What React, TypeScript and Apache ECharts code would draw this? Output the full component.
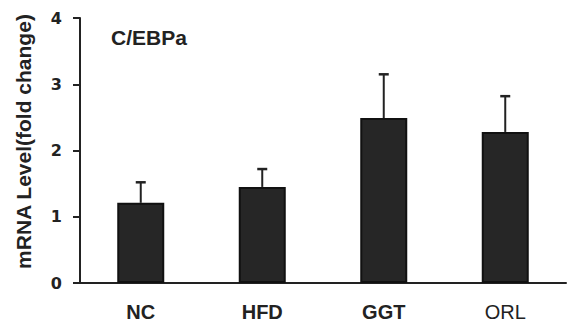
import React, { useEffect, useRef } from "react";
import * as echarts from "echarts";

const categories = ["NC", "HFD", "GGT", "ORL"];
const means = [1.21, 1.45, 2.49, 2.28];
const upper = [1.52, 1.72, 3.15, 2.82];
const yTicks = [0, 1, 2, 3, 4];

export default function App() {
  const ref = useRef<HTMLDivElement>(null);
  useEffect(() => {
    const chart = echarts.init(ref.current!, null, { renderer: "svg" });
    const font = "Liberation Sans";
    chart.setOption({
      animation: false,
      backgroundColor: "#fff",
      grid: { left: 80, right: 2, top: 18, bottom: 41 },
      title: {
        text: "C/EBPa",
        left: 106,
        top: 22,
        textStyle: { fontFamily: font, fontSize: 21, fontWeight: "bold", color: "#222" },
      },
      xAxis: {
        type: "category",
        data: categories,
        axisLine: { lineStyle: { color: "#222", width: 2 } },
        axisTick: { alignWithLabel: true, length: 5, lineStyle: { color: "#222", width: 2 } },
        axisLabel: {
          fontFamily: font,
          fontSize: 20,
          color: "#222",
          margin: 19,
          formatter: (v: string) => (v === "ORL" ? `{n|${v}}` : `{b|${v}}`),
          rich: {
            b: { fontFamily: font, fontSize: 20, fontWeight: "bold", color: "#222" },
            n: { fontFamily: font, fontSize: 20, fontWeight: "normal", color: "#222" },
          },
        },
      },
      yAxis: {
        type: "value",
        min: yTicks[0],
        max: yTicks[yTicks.length - 1],
        interval: 1,
        name: "mRNA Level(fold change)",
        nameLocation: "middle",
        nameGap: 46,
        nameTextStyle: { fontFamily: font, fontSize: 21, fontWeight: "bold", color: "#222", padding: [0, 0, 0, 18] },
        axisLine: { show: true, lineStyle: { color: "#222", width: 2 } },
        axisTick: { show: true, length: 7, lineStyle: { color: "#222", width: 2 } },
        axisLabel: { fontFamily: "DejaVu Sans", fontSize: 16, fontWeight: "bold", color: "#222", margin: 18 },
        splitLine: { show: false },
      },
      series: [
        {
          type: "bar",
          data: means,
          barWidth: 47,
          itemStyle: { color: "#262626", borderColor: "#111", borderWidth: 2 },
          z: 2,
        },
        {
          type: "custom",
          data: means.map((m, i) => [i, m, upper[i]]),
          z: 1,
          renderItem: (params: any, api: any) => {
            const i = api.value(0);
            const base = api.coord([i, api.value(1)]);
            const top = api.coord([i, api.value(2)]);
            const cap = 5;
            return {
              type: "group",
              children: [
                { type: "line", shape: { x1: base[0], y1: base[1], x2: top[0], y2: top[1] }, style: { stroke: "#222", lineWidth: 2 } },
                { type: "line", shape: { x1: top[0] - cap, y1: top[1], x2: top[0] + cap, y2: top[1] }, style: { stroke: "#222", lineWidth: 2.5 } },
              ],
            };
          },
        },
      ],
    });
    return () => chart.dispose();
  }, []);
  return <div ref={ref} style={{ width: 568, height: 324, position: "absolute", left: 0, top: 0 }} />;
}
